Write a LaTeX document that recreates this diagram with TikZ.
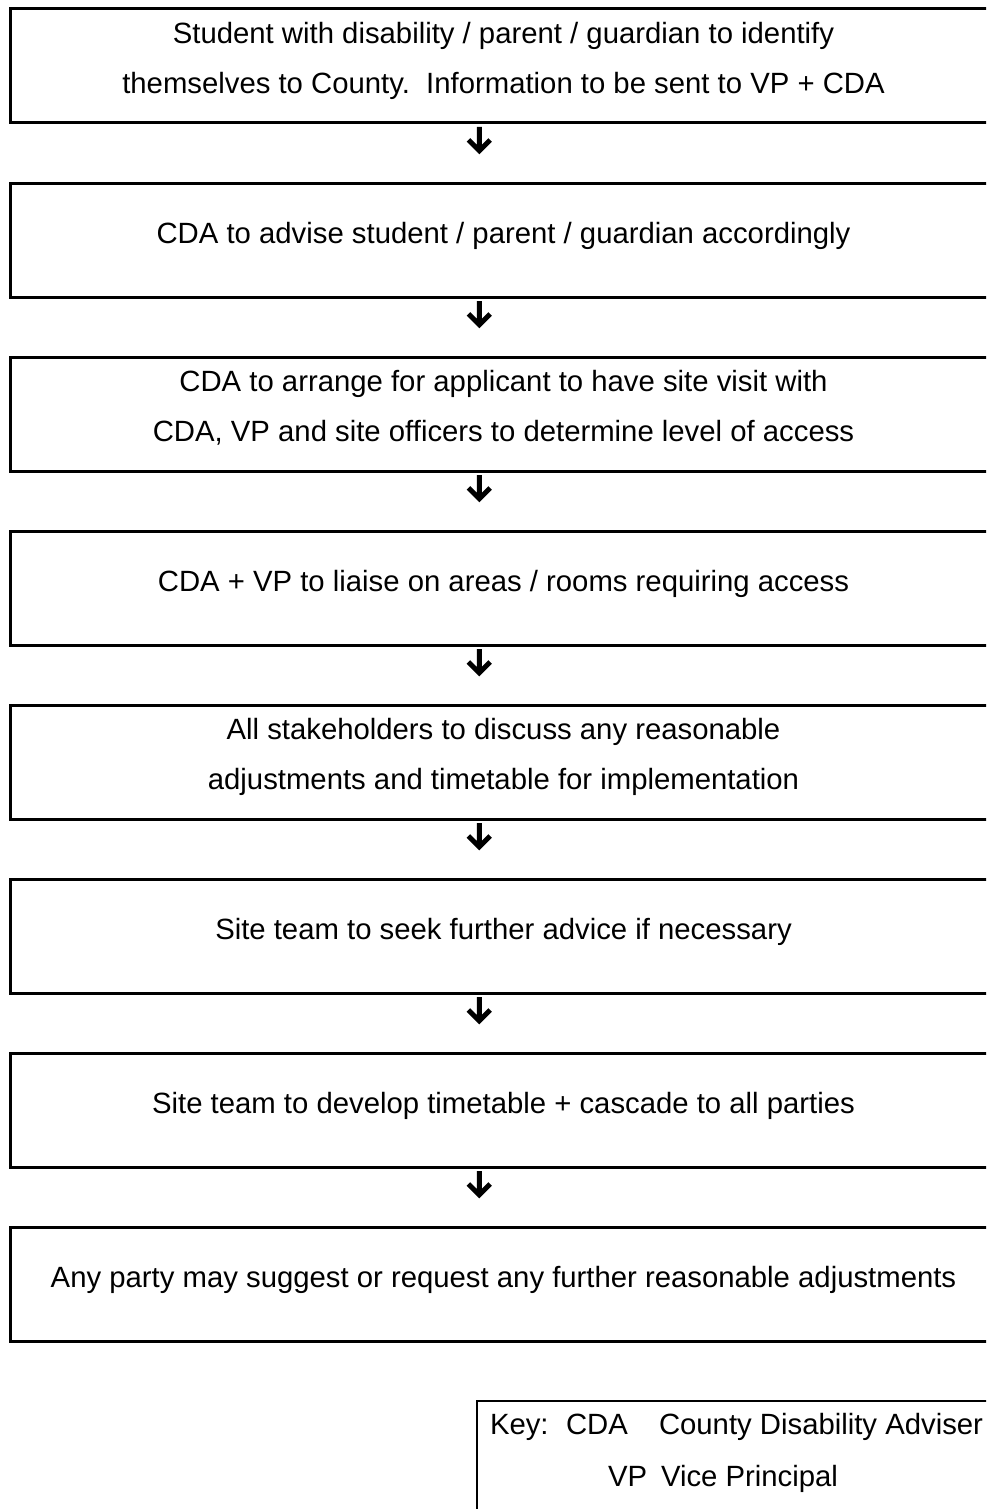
\documentclass[tikz,border=0pt]{standalone}
\usepackage{fontspec}
\setmainfont{Liberation Sans}
\begin{document}
\begin{tikzpicture}[x=1pt,y=-1pt,
  stepbox/.style={draw=black,line width=3pt,minimum width=986pt,minimum height=114pt,inner sep=0pt,outer sep=0pt,fill=white},
  keybox/.style={draw=black,line width=2pt,minimum width=700pt,minimum height=200pt,inner sep=0pt,outer sep=0pt,anchor=north west},
  txt/.style={inner sep=0pt,outer sep=0pt,anchor=base,font=\fontsize{29.3}{50}\selectfont},
  ktxt/.style={inner sep=0pt,outer sep=0pt,anchor=base west,font=\fontsize{29.3}{50}\selectfont},
  darrow/.pic={\fill[black] (0,0) -- (-2.5,0) -- (-2.5,17.8) -- (-9.1,11.2) -- (-12.6,14.7) -- (0,27.3) -- (12.6,14.7) -- (9.1,11.2) -- (2.5,17.8) -- (2.5,0) -- cycle;}
]
\useasboundingbox (0,0) rectangle (986,1509);
\clip (0,0) rectangle (986,1509);
\fill[white] (0,0) rectangle (986,1509);

% boxes
\node[stepbox] (b1) at (503.5,66) {};
\node[stepbox] (b2) at (503.5,240) {};
\node[stepbox] (b3) at (503.5,414) {};
\node[stepbox] (b4) at (503.5,588) {};
\node[stepbox] (b5) at (503.5,762) {};
\node[stepbox] (b6) at (503.5,936) {};
\node[stepbox] (b7) at (503.5,1110) {};
\node[stepbox] (b8) at (503.5,1284) {};

% texts
\node[txt] (t1a) at ([yshift=-34.4pt]b1.north) {Student with disability / parent / guardian to identify};
\node[txt] (t1b) at ([yshift=-84.4pt]b1.north) {themselves to County.\ \ Information to be sent to VP + CDA};
\node[txt] (t2) at ([yshift=-60.4pt]b2.north) {CDA to advise student / parent / guardian accordingly};
\node[txt] (t3a) at ([yshift=-34.4pt]b3.north) {CDA to arrange for applicant to have site visit with};
\node[txt] (t3b) at ([yshift=-84.4pt]b3.north) {CDA, VP and site officers to determine level of access};
\node[txt] (t4) at ([yshift=-60.4pt]b4.north) {CDA + VP to liaise on areas / rooms requiring access};
\node[txt] (t5a) at ([yshift=-34.4pt]b5.north) {All stakeholders to discuss any reasonable};
\node[txt] (t5b) at ([yshift=-84.4pt]b5.north) {adjustments and timetable for implementation};
\node[txt] (t6) at ([yshift=-60.4pt]b6.north) {Site team to seek further advice if necessary};
\node[txt] (t7) at ([yshift=-60.4pt]b7.north) {Site team to develop timetable + cascade to all parties};
\node[txt] (t8) at ([yshift=-60.4pt]b8.north) {Any party may suggest or request any further reasonable adjustments};

% arrows
\pic at ([xshift=-24.2pt,yshift=-4pt]b1.south) {darrow};
\pic at ([xshift=-24.2pt,yshift=-4pt]b2.south) {darrow};
\pic at ([xshift=-24.2pt,yshift=-4pt]b3.south) {darrow};
\pic at ([xshift=-24.2pt,yshift=-4pt]b4.south) {darrow};
\pic at ([xshift=-24.2pt,yshift=-4pt]b5.south) {darrow};
\pic at ([xshift=-24.2pt,yshift=-4pt]b6.south) {darrow};
\pic at ([xshift=-24.2pt,yshift=-4pt]b7.south) {darrow};

% key
\node[keybox] (key) at (477,1401) {};
\node[ktxt] (k1) at (490,1434.5) {Key:};
\node[ktxt] (k2) at (566,1434.5) {CDA};
\node[ktxt] (k3) at (659,1434.5) {County Disability Adviser};
\node[ktxt] (k4) at (608,1486.5) {VP};
\node[ktxt] (k5) at (661,1486.5) {Vice Principal};
\end{tikzpicture}
\end{document}
